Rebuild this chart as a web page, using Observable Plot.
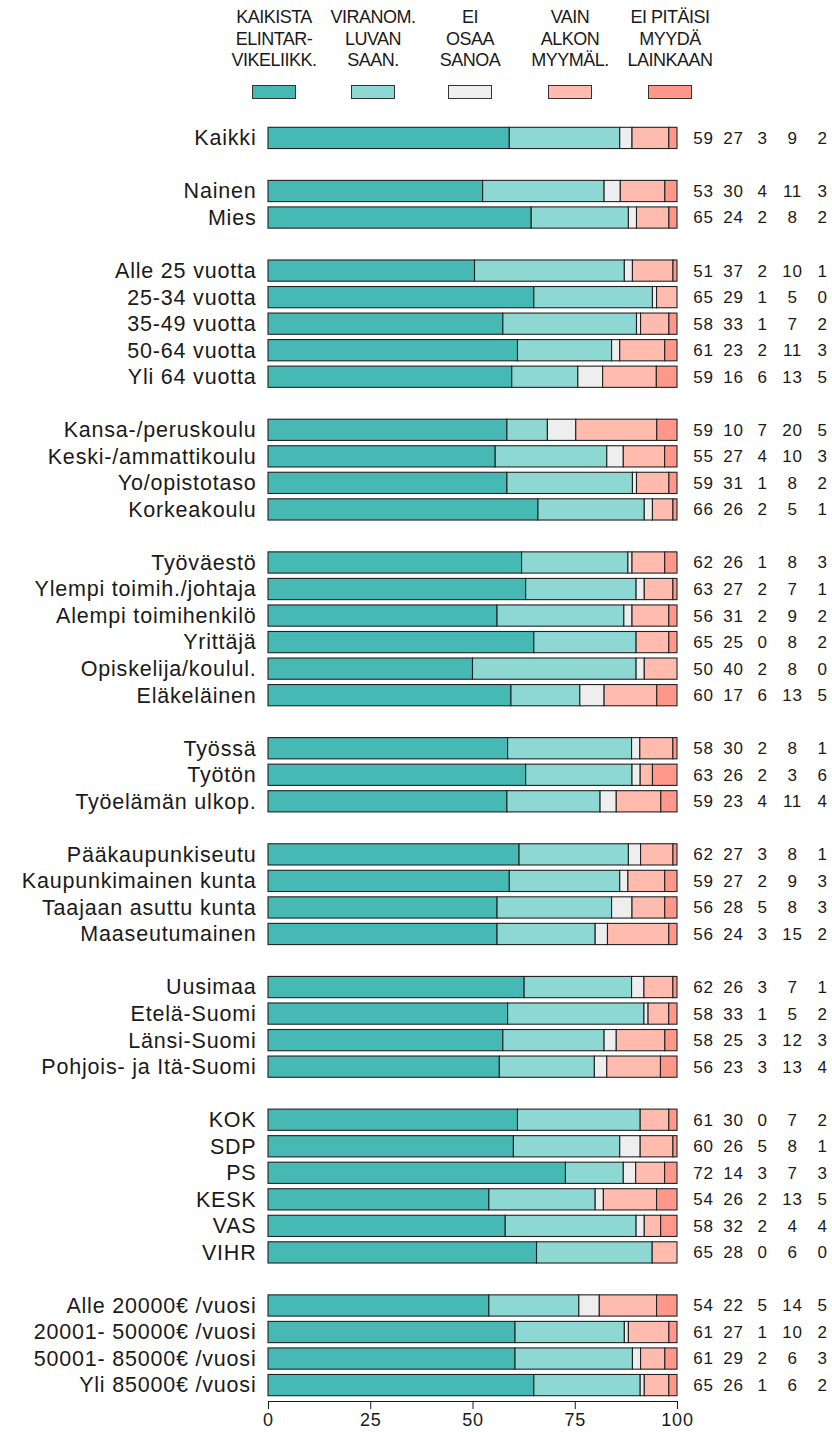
<!DOCTYPE html>
<html>
<head>
<meta charset="utf-8">
<script src="https://cdn.jsdelivr.net/npm/d3@7"></script>
<script src="https://cdn.jsdelivr.net/npm/@observablehq/plot@0.6"></script>
<style>
  html, body { margin: 0; padding: 0; background: #fff; }
  body { width: 832px; font-family: "Liberation Sans", Arial, sans-serif; color: #1a1a1a; }
  #legend { position: relative; width: 832px; height: 110px; font-size: 18px; line-height: 21.5px; letter-spacing: -0.5px; }
  .item { position: absolute; top: 7px; width: 120px; text-align: center; white-space: pre; }
  .sw { position: absolute; top: 78px; left: 38px; width: 42px; height: 12px; border: 1px solid #333; }
  #chart svg { display: block; }
  #chart svg text { letter-spacing: 0.8px; }
</style>
</head>
<body>
<div id="legend"></div>
<div id="chart"></div>
<script>
// ---- data ----
const seriesNames = ["KAIKISTA ELINTARVIKELIIKK.", "VIRANOM. LUVAN SAAN.", "EI OSAA SANOA", "VAIN ALKON MYYMÄL.", "EI PITÄISI MYYDÄ LAINKAAN"];
const legendLabels = ["KAIKISTA\nELINTAR-\nVIKELIIKK.", "VIRANOM.\nLUVAN\nSAAN.", "EI\nOSAA\nSANOA", "VAIN\nALKON\nMYYMÄL.", "EI PITÄISI\nMYYDÄ\nLAINKAAN"];
const colors = ["#46b9b5", "#8ed8d3", "#eeeeee", "#ffbbae", "#ff978a"];

const groups = [
  ["Kaikki"],
  ["Nainen", "Mies"],
  ["Alle 25 vuotta", "25-34 vuotta", "35-49 vuotta", "50-64 vuotta", "Yli 64 vuotta"],
  ["Kansa-/peruskoulu", "Keski-/ammattikoulu", "Yo/opistotaso", "Korkeakoulu"],
  ["Työväestö", "Ylempi toimih./johtaja", "Alempi toimihenkilö", "Yrittäjä", "Opiskelija/koulul.", "Eläkeläinen"],
  ["Työssä", "Työtön", "Työelämän ulkop."],
  ["Pääkaupunkiseutu", "Kaupunkimainen kunta", "Taajaan asuttu kunta", "Maaseutumainen"],
  ["Uusimaa", "Etelä-Suomi", "Länsi-Suomi", "Pohjois- ja Itä-Suomi"],
  ["KOK", "SDP", "PS", "KESK", "VAS", "VIHR"],
  ["Alle 20000€ /vuosi", "20001- 50000€ /vuosi", "50001- 85000€ /vuosi", "Yli 85000€ /vuosi"]
];

const kaikista  = [59,53,65,51,65,58,61,59,59,55,59,66,62,63,56,65,50,60,58,63,59,62,59,56,56,62,58,58,56,61,60,72,54,58,65,54,61,61,65];
const viranom   = [27,30,24,37,29,33,23,16,10,27,31,26,26,27,31,25,40,17,30,26,23,27,27,28,24,26,33,25,23,30,26,14,26,32,28,22,27,29,26];
const eiOsaa    = [3,4,2,2,1,1,2,6,7,4,1,2,1,2,2,0,2,6,2,2,4,3,2,5,3,3,1,3,3,0,5,3,2,2,0,5,1,2,1];
const vainAlkon = [9,11,8,10,5,7,11,13,20,10,8,5,8,7,9,8,8,13,8,3,11,8,9,8,15,7,5,12,13,7,8,7,13,4,6,14,10,6,6];
const eiPitaisi = [2,3,2,1,0,2,3,5,5,3,2,1,3,1,2,2,0,5,1,6,4,1,3,3,2,1,2,3,4,2,1,3,5,4,0,5,2,3,2];

const xTicks = [0, 25, 50, 75, 100];

// ---- derived structures ----
const seriesValues = [kaikista, viranom, eiOsaa, vainAlkon, eiPitaisi];
const labels = groups.flat();
const domain = [];
groups.forEach((g, i) => {
  if (i > 0) domain.push("gap" + i);
  domain.push(...g);
});
const rows = labels.map((label, i) => ({label, values: seriesValues.map(s => s[i])}));
const long = [];
rows.forEach(r => r.values.forEach((v, j) => {
  if (v > 0) long.push({label: r.label, series: seriesNames[j], value: v});
}));

// ---- legend ----
const centers = [274, 373, 470, 570, 670];
const legend = document.getElementById("legend");
legendLabels.forEach((t, j) => {
  const d = document.createElement("div");
  d.className = "item";
  d.style.left = (centers[j] - 60) + "px";
  d.textContent = t;
  const sw = document.createElement("div");
  sw.className = "sw";
  sw.style.background = colors[j];
  d.appendChild(sw);
  legend.appendChild(d);
});

// ---- chart ----
const numOffsets = [26, 56, 85, 115, 145];
const marks = [
  Plot.barX(long, Plot.stackX({
    x: "value", y: "label", fill: "series", offset: "normalize", order: seriesNames,
    stroke: "#222", strokeWidth: 1.1
  })),
  Plot.text(rows, {
    y: "label", text: "label", frameAnchor: "left", textAnchor: "end",
    dx: -12, fontSize: 21.5, fill: "#1a1a1a"
  }),
  ...numOffsets.map((dx, j) => Plot.text(rows, {
    y: "label", text: d => String(d.values[j]), frameAnchor: "right",
    textAnchor: "middle", dx, fontSize: 17, fill: "#1a1a1a"
  }))
];

const chart = Plot.plot({
  width: 832,
  height: 1322,
  marginLeft: 268,
  marginRight: 155,
  marginTop: 12,
  marginBottom: 31,
  style: {fontFamily: "'Liberation Sans', Arial, sans-serif", fontSize: "18px", color: "#1a1a1a", background: "#fff"},
  x: {
    domain: [0, 1],
    ticks: xTicks.map(t => t / 100),
    tickFormat: d => String(Math.round(d * 100)),
    tickSize: 8,
    tickPadding: 4,
    line: true,
    label: null
  },
  y: {domain, padding: 0.2, round: false, axis: null},
  color: {domain: seriesNames, range: colors},
  marks
});
document.getElementById("chart").appendChild(chart);
</script>
</body>
</html>
